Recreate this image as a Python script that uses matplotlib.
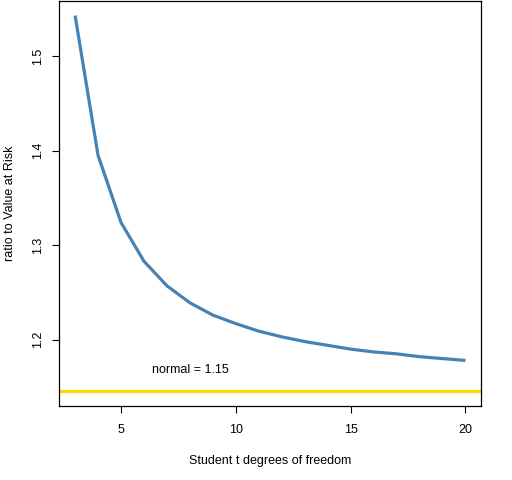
import matplotlib
matplotlib.use('Agg')
import matplotlib.pyplot as plt

# degrees of freedom and ratio of expected shortfall to VaR
dof = [3, 4, 5, 6, 7, 8, 9, 10, 11, 12, 13, 14, 15, 16, 17, 18, 19, 20]
ratio = [1.543, 1.395, 1.324, 1.283, 1.257, 1.239, 1.226, 1.217, 1.209, 1.203,
         1.198, 1.194, 1.190, 1.187, 1.185, 1.182, 1.180, 1.178]
normal_ratio = 1.1457
normal_label = 'normal = 1.15'

plt.rcParams['font.family'] = ['Liberation Sans', 'DejaVu Sans']
plt.rcParams['font.size'] = 9

fig = plt.figure(figsize=(5.12, 4.8), dpi=100)
ax = fig.add_axes([0.1162, 0.1542, 0.8233, 0.8438])

ax.plot(dof, ratio, color='#4682B4', lw=2.3, solid_capstyle='butt')
ax.axhline(normal_ratio, color='#FFD700', lw=2.3)
ax.text(8, 1.168, normal_label, ha='center', va='center', fontsize=9)

ax.set_xlim(2.32, 20.68)
ax.set_ylim(1.1298, 1.5585)
ax.set_xticks([5, 10, 15, 20])
ax.set_yticks([1.2, 1.3, 1.4, 1.5])
ax.set_yticklabels(['1.2', '1.3', '1.4', '1.5'], rotation=90, va='center')
ax.tick_params(direction='out', length=5, width=0.8, pad=8)
ax.tick_params(axis='y', pad=6)
for s in ax.spines.values():
    s.set_linewidth(0.9)

ax.set_xlabel('Student t degrees of freedom', labelpad=14)
ax.set_ylabel('ratio to Value at Risk', labelpad=12)

fig.savefig('out.png', dpi=100)
